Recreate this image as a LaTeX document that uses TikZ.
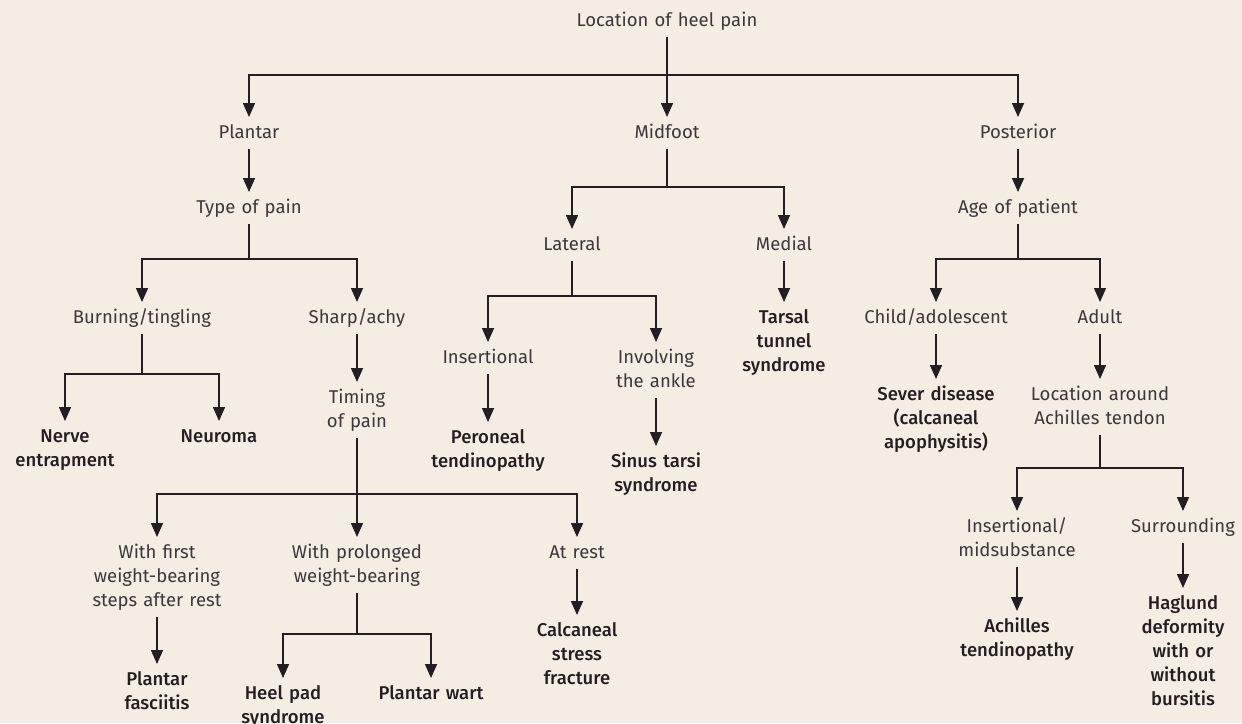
\documentclass[tikz,border=0pt]{standalone}
\usepackage{fontspec}
\setmainfont{Fira Sans}[BoldFont={* Medium}]
\usetikzlibrary{arrows.meta}
\definecolor{bg}{HTML}{F3EDE4}
\definecolor{ink}{HTML}{231F20}
\definecolor{txt}{HTML}{3A3839}
\tikzset{
  lbl/.style={anchor=base, inner sep=4pt, text width=220pt, align=center,
    font=\fontsize{18.5}{24}\selectfont, text=txt,
    execute at begin node=\strut, execute at end node=\strut},
  dx/.style={lbl, font=\fontsize{18.5}{24}\selectfont\bfseries, text=ink},
  ln/.style={draw=ink, line width=1.6pt},
  arr/.style={ln, -{Triangle[length=14pt,width=12pt]}}
}
\begin{document}
\begin{tikzpicture}[x=1pt,y=-1pt]
\fill[bg] (0,0) rectangle (1242,723);
\useasboundingbox (0,0) rectangle (1242,723);
% level 0-2
\node[lbl] (root) at (667,26) {Location of heel pain};
\node[lbl] (plantar) at (249,138) {Plantar};
\node[lbl] (midfoot) at (667,138) {Midfoot};
\node[lbl] (posterior) at (1018,138) {Posterior};
\node[lbl] (typepain) at (249,213) {Type of pain};
\node[lbl] (age) at (1018,213) {Age of patient};
\node[lbl] (burning) at (142,323) {Burning/tingling};
\node[lbl] (sharp) at (357,323) {Sharp/achy};
\node[lbl] (lateral) at (572,250) {Lateral};
\node[lbl] (medial) at (784,250) {Medial};
\node[lbl] (child) at (936,323) {Child/adolescent};
\node[lbl] (adult) at (1100,323) {Adult};
\node[dx] (nerve) at (65,442) {Nerve\\entrapment};
\node[dx] (neuroma) at (219,442) {Neuroma};
\node[lbl] (timing) at (357,403) {Timing\\of pain};
\node[lbl] (insertional) at (488,363) {Insertional};
\node[lbl] (involving) at (656,363) {Involving\\the ankle};
\node[dx] (tarsal) at (784,323) {Tarsal\\tunnel\\syndrome};
\node[dx] (peroneal) at (488,443) {Peroneal\\tendinopathy};
\node[dx] (sinus) at (656,467) {Sinus tarsi\\syndrome};
\node[dx] (sever) at (936,400) {Sever disease\\(calcaneal\\apophysitis)};
\node[lbl] (locach) at (1100,400) {Location around\\Achilles tendon};
\node[lbl] (first) at (157,558) {With first\\weight-bearing\\steps after rest};
\node[lbl] (prolonged) at (357,558) {With prolonged\\weight-bearing};
\node[lbl] (atrest) at (577,558) {At rest};
\node[lbl] (insmid) at (1017,532) {Insertional/\\midsubstance};
\node[lbl] (surround) at (1183,532) {Surrounding};
\node[dx] (fasciitis) at (157,685) {Plantar\\fasciitis};
\node[dx] (heelpad) at (283,699) {Heel pad\\syndrome};
\node[dx] (wart) at (431,699) {Plantar wart};
\node[dx] (calc) at (577,636) {Calcaneal\\stress\\fracture};
\node[dx] (achten) at (1017,632) {Achilles\\tendinopathy};
\node[dx] (haglund) at (1183,609) {Haglund\\deformity\\with or\\without\\bursitis};
% bar coordinates
\coordinate (b0) at (667,75);
\coordinate (b1) at (249,259);
\coordinate (b2) at (142,374);
\coordinate (b3) at (357,494);
\coordinate (b4) at (357,634);
\coordinate (b5) at (667,187);
\coordinate (b6) at (572,296);
\coordinate (b7) at (1018,259);
\coordinate (b8) at (1100,468);
% connectors
\draw[arr] (root.south) -- (midfoot.north);
\draw[arr] (b0) -| (plantar.north);
\draw[arr] (b0) -| (posterior.north);
\draw[arr] (plantar.south) -- (typepain.north);
\draw[ln] (typepain.south) -- (b1);
\draw[arr] (b1) -| (burning.north);
\draw[arr] (b1) -| (sharp.north);
\draw[ln] (burning.south) -- (b2);
\draw[arr] (b2) -| (nerve.north);
\draw[arr] (b2) -| (neuroma.north);
\draw[arr] (sharp.south) -- (timing.north);
\draw[arr] (timing.south) -- (prolonged.north);
\draw[arr] (b3) -| (first.north);
\draw[arr] (b3) -| (atrest.north);
\draw[arr] (first.south) -- (fasciitis.north);
\draw[ln] (prolonged.south) -- (b4);
\draw[arr] (b4) -| (heelpad.north);
\draw[arr] (b4) -| (wart.north);
\draw[arr] (atrest.south) -- (calc.north);
\draw[ln] (midfoot.south) -- (b5);
\draw[arr] (b5) -| (lateral.north);
\draw[arr] (b5) -| (medial.north);
\draw[ln] (lateral.south) -- (b6);
\draw[arr] (b6) -| (insertional.north);
\draw[arr] (b6) -| (involving.north);
\draw[arr] (insertional.south) -- (peroneal.north);
\draw[arr] (involving.south) -- (sinus.north);
\draw[arr] (medial.south) -- (tarsal.north);
\draw[arr] (posterior.south) -- (age.north);
\draw[ln] (age.south) -- (b7);
\draw[arr] (b7) -| (child.north);
\draw[arr] (b7) -| (adult.north);
\draw[arr] (child.south) -- (sever.north);
\draw[arr] (adult.south) -- (locach.north);
\draw[ln] (locach.south) -- (b8);
\draw[arr] (b8) -| (insmid.north);
\draw[arr] (b8) -| (surround.north);
\draw[arr] (insmid.south) -- (achten.north);
\draw[arr] (surround.south) -- (haglund.north);
\end{tikzpicture}
\end{document}
